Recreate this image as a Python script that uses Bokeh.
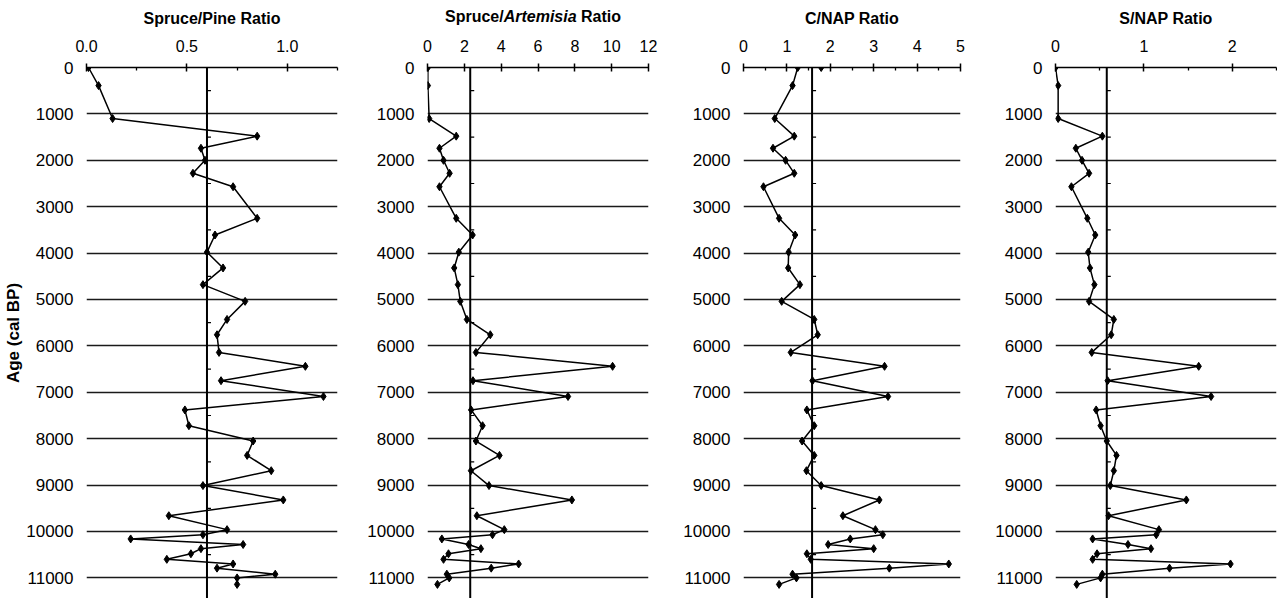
from bokeh.plotting import figure
from bokeh.layouts import row, column
from bokeh.models import Range1d, FixedTicker, PrintfTickFormatter, Span, Div
from bokeh.embed import file_html
from bokeh.resources import INLINE

# ---------------- data ----------------
ages = [0, 390, 1100, 1480, 1740, 2000, 2280, 2570, 3250, 3610, 3980, 4320, 4680,
        5040, 5430, 5760, 6140, 6440, 6750, 7090, 7380, 7720, 8050, 8360, 8690,
        9010, 9320, 9660, 9960, 10070, 10160, 10280, 10370, 10480, 10600, 10700,
        10790, 10920, 11000, 11140]

spruce_pine = [0.01, 0.06, 0.13, 0.85, 0.57, 0.59, 0.53, 0.73, 0.85, 0.64, 0.60, 0.68,
               0.58, 0.79, 0.70, 0.65, 0.66, 1.09, 0.67, 1.18, 0.49, 0.51, 0.83, 0.80,
               0.92, 0.58, 0.98, 0.41, 0.70, 0.58, 0.22, 0.78, 0.57, 0.52, 0.40, 0.73,
               0.65, 0.94, 0.75, 0.75]

spruce_artemisia = [0.02, 0.02, 0.09, 1.56, 0.65, 0.87, 1.20, 0.65, 1.56, 2.45, 1.70,
                    1.45, 1.65, 1.78, 2.14, 3.41, 2.63, 10.05, 2.47, 7.63, 2.37, 2.99,
                    2.63, 3.91, 2.36, 3.34, 7.84, 2.68, 4.17, 3.53, 0.78, 2.23, 2.90,
                    1.14, 0.87, 4.95, 3.46, 1.05, 1.18, 0.54]

c_nap = [1.25, 1.13, 0.72, 1.17, 0.68, 0.97, 1.17, 0.46, 0.82, 1.19, 1.04, 1.03, 1.30,
         0.88, 1.63, 1.71, 1.09, 3.25, 1.59, 3.33, 1.46, 1.63, 1.35, 1.63, 1.45, 1.79,
         3.13, 2.29, 3.04, 3.21, 2.46, 1.95, 3.00, 1.46, 1.55, 4.73, 3.36, 1.13, 1.22,
         0.82]
c_nap_extra_value = [1.79]
c_nap_extra_age = [0]

s_nap = [0.00, 0.03, 0.03, 0.53, 0.23, 0.30, 0.38, 0.18, 0.36, 0.45, 0.37, 0.39, 0.44,
         0.38, 0.66, 0.63, 0.41, 1.62, 0.59, 1.76, 0.46, 0.51, 0.58, 0.69, 0.66, 0.62,
         1.48, 0.60, 1.17, 1.14, 0.42, 0.82, 1.08, 0.47, 0.42, 1.98, 1.29, 0.53, 0.51,
         0.24]

# mean (reference) lines
ref_values = [0.60, 2.32, 1.58, 0.58]

age_ticks = list(range(0, 11001, 1000))
half_ticks = list(range(500, 11501, 1000))

titles = ["Spruce/Pine Ratio", "Spruce/<i>Artemisia</i> Ratio", "C/NAP Ratio",
          "S/NAP Ratio"]
y_title = "Age (cal BP)"

# ---------------- style ----------------
FONT = "Liberation Sans"
TOP = 67
H = 598
Y_BOTTOM = 11444
DIV_H = 30


def make_panel(title, xmax, major, minor, fmt, values, ref, width, left, right,
               height=H, top=TOP, ylabel=None):
    frame_w = width - left - right
    p = figure(width=width, height=height,
               x_range=Range1d(0, xmax), y_range=Range1d(Y_BOTTOM, 0),
               output_backend="svg", toolbar_location=None,
               x_axis_location="above",
               min_border_left=left, min_border_right=right,
               min_border_top=top, min_border_bottom=0)
    p.outline_line_color = None
    p.background_fill_color = "white"
    p.border_fill_color = "white"
    p.xgrid.visible = False
    p.ygrid.ticker = FixedTicker(ticks=age_ticks)
    p.ygrid.grid_line_color = "#1a1a1a"
    p.ygrid.grid_line_width = 1.3

    xa = p.xaxis[0]
    xa.ticker = FixedTicker(ticks=major, minor_ticks=minor)
    xa.formatter = PrintfTickFormatter(format=fmt)
    if title:
        xa.axis_label = title
        xa.axis_label_text_font = FONT
        xa.axis_label_text_font_style = "bold"
        xa.axis_label_text_font_size = "16px"
        xa.axis_label_text_color = "black"
        xa.axis_label_standoff = 10
    xa.major_label_text_font = FONT
    xa.major_label_text_font_size = "16px"
    xa.major_label_text_color = "black"
    xa.major_label_standoff = 12
    xa.axis_line_color = "black"
    xa.axis_line_width = 1.7
    xa.major_tick_line_color = "black"
    xa.major_tick_line_width = 1.5
    xa.major_tick_in = 4
    xa.major_tick_out = 4
    xa.minor_tick_line_color = "black"
    xa.minor_tick_line_width = 1.3
    xa.minor_tick_in = 3
    xa.minor_tick_out = 0

    ya = p.yaxis[0]
    ya.ticker = FixedTicker(ticks=age_ticks)
    ya.formatter = PrintfTickFormatter(format="%d")
    ya.axis_line_color = None
    ya.major_tick_line_color = None
    ya.minor_tick_line_color = None
    ya.major_label_text_font = FONT
    ya.major_label_text_font_size = "17px"
    ya.major_label_text_color = "black"
    ya.major_label_standoff = 7
    if ylabel:
        ya.axis_label = ylabel
        ya.axis_label_text_font = FONT
        ya.axis_label_text_font_style = "bold"
        ya.axis_label_text_font_size = "17px"
        ya.axis_label_text_color = "black"
        ya.axis_label_standoff = 0

    # reference line with small half-interval ticks on its right side
    p.add_layout(Span(location=ref, dimension="height", line_color="black",
                      line_width=2))
    tick_len = xmax / frame_w * 4
    p.segment(x0=[ref] * len(half_ticks), y0=half_ticks,
              x1=[ref + tick_len] * len(half_ticks), y1=half_ticks,
              line_color="black", line_width=1.2)

    p.line(values, ages, line_color="black", line_width=1.5)
    p.scatter(values, ages, marker="diamond", size=8, fill_color="black",
              line_color="black")
    return p


p1 = make_panel(titles[0], 1.25, [0, 0.5, 1.0], [0.25, 0.75, 1.25], "%.1f",
                spruce_pine, ref_values[0], 345, 86, 8, ylabel=y_title)

# Spruce/Artemisia panel: title with italic genus name lives in a Div above
p2_title = Div(text=titles[1], width=315, height=DIV_H, margin=(0, 0, 0, 0),
               styles={"font-family": FONT, "font-size": "16px",
                       "font-weight": "bold", "color": "black",
                       "padding-left": "100px", "padding-top": "8px",
                       "white-space": "nowrap", "line-height": "18px"})
p2 = make_panel(None, 12, [0, 2, 4, 6, 8, 10, 12], [], "%d",
                spruce_artemisia, ref_values[1], 315, 82, 12,
                height=H - DIV_H, top=TOP - DIV_H)

p3 = make_panel(titles[2], 5, [0, 1, 2, 3, 4, 5], [0.5, 1.5, 2.5, 3.5, 4.5], "%d",
                c_nap, ref_values[2], 312, 83, 12)
p3.scatter(c_nap_extra_value, c_nap_extra_age, marker="diamond", size=8,
           fill_color="black", line_color="black")
p4 = make_panel(titles[3], 2.5, [0, 1, 2], [0.5, 1.5, 2.5], "%d",
                s_nap, ref_values[3], 305, 83, 1)

layout = row(p1, column(p2_title, p2, spacing=0), p3, p4, spacing=0)
open("out.html", "w").write(file_html(layout, INLINE))
